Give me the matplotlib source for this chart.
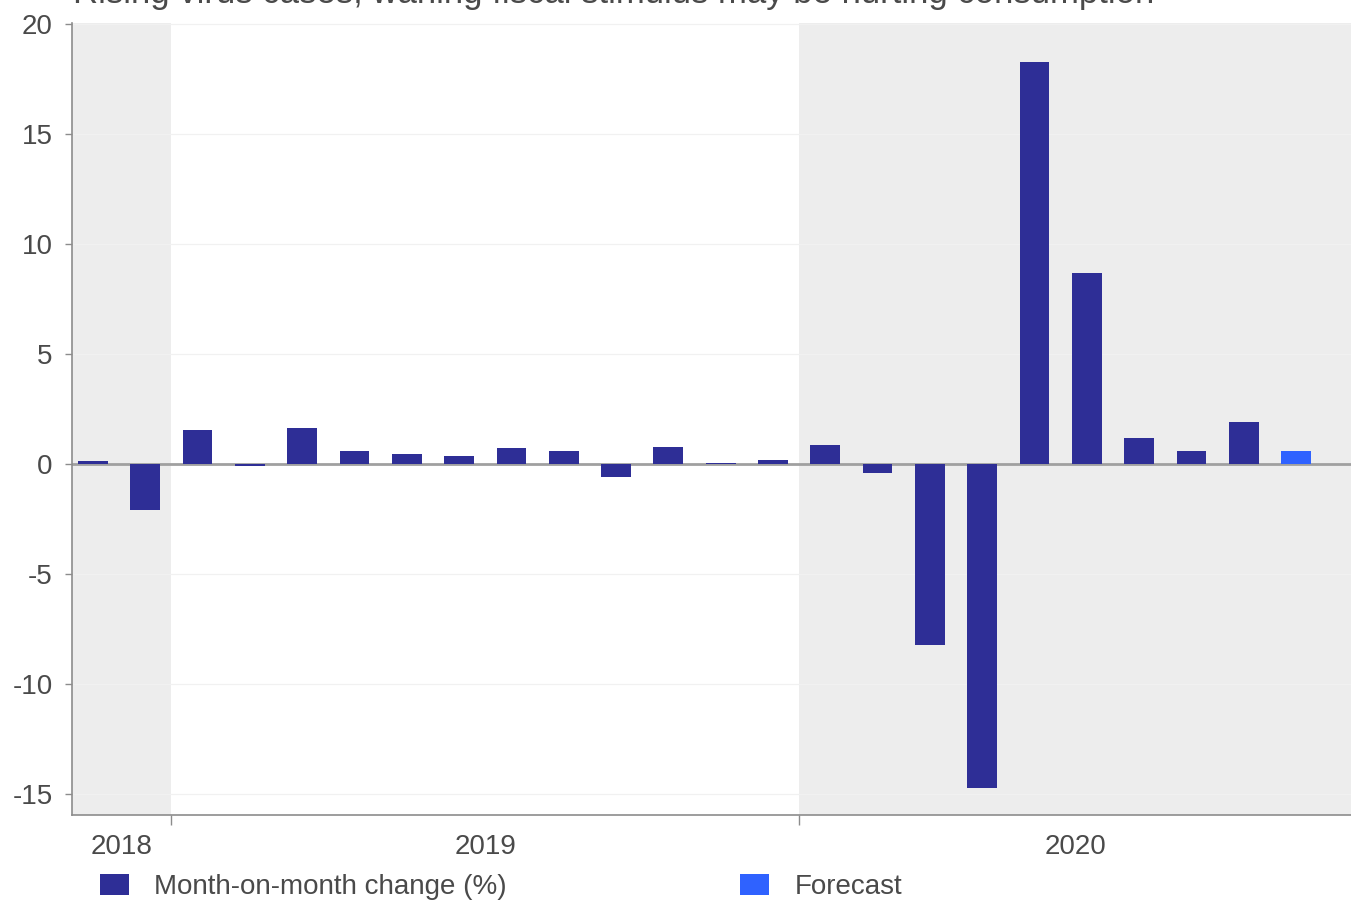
import matplotlib
matplotlib.use("Agg")
import matplotlib.pyplot as plt
from matplotlib.patches import Patch

plt.rcParams['font.family'] = ['Liberation Sans', 'DejaVu Sans']

# Monthly retail sales change, Nov 2018 - Oct 2020 (last month is a forecast)
months = ["2018-11", "2018-12",
          "2019-01", "2019-02", "2019-03", "2019-04", "2019-05", "2019-06",
          "2019-07", "2019-08", "2019-09", "2019-10", "2019-11", "2019-12",
          "2020-01", "2020-02", "2020-03", "2020-04", "2020-05", "2020-06",
          "2020-07", "2020-08", "2020-09", "2020-10"]
mom_change = [0.15, -2.1,
              1.55, -0.1, 1.65, 0.6, 0.45, 0.35, 0.75, 0.6, -0.6, 0.8, 0.05, 0.2,
              0.85, -0.4, -8.2, -14.7, 18.3, 8.7, 1.2, 0.6, 1.9, 0.6]
is_forecast = [False] * 23 + [True]
year_labels = ["2018", "2019", "2020"]
y_ticks = [-15, -10, -5, 0, 5, 10, 15, 20]

title = "Rising virus cases, waning fiscal stimulus may be hurting consumption"
series_label = "Month-on-month change (%)"
forecast_label = "Forecast"

BAR = "#2E2E96"
FCST = "#2F62FF"
SHADE = "#EDEDED"
TEXT = "#4A4A4A"
SPINE = "#8C8C8C"

W, H = 1351, 900
fig = plt.figure(figsize=(W / 100, H / 100), dpi=100)
fig.patch.set_facecolor("white")
ax = fig.add_axes([72 / W, 1 - 815 / H, 1 - 72 / W, (815 - 23) / H])

x = list(range(len(months)))
x_lo, x_hi = -0.4, 24.05
# year boundaries sit halfway between December and January
boundaries = [i + 0.5 for i in range(len(months) - 1)
              if months[i][:4] != months[i + 1][:4]]
edges = [x_lo] + boundaries + [x_hi]

# alternating year panels: grey, white, grey
for k in range(len(edges) - 1):
    if k % 2 == 0:
        ax.axvspan(edges[k], edges[k + 1], color=SHADE, lw=0, zorder=0)

for t in y_ticks:
    ax.axhline(t, color="#F1F1F1", lw=0.9, zorder=0.5)
ax.axhline(0, color="#A0A0A0", lw=2.0, zorder=1)

colors = [FCST if f else BAR for f in is_forecast]
ax.bar(x, mom_change, width=0.57, color=colors, zorder=2, linewidth=0)

ax.set_xlim(x_lo, x_hi)
ax.set_ylim(-15.95, 20.05)

ax.set_yticks(y_ticks)
ax.set_yticklabels([str(t) for t in y_ticks])
ax.tick_params(axis="y", length=5, width=1, color=SPINE, pad=9,
               labelsize=20, labelcolor=TEXT)

ax.set_xticks(boundaries)
ax.set_xticklabels([])
ax.tick_params(axis="x", which="major", length=7, width=1, color=SPINE)
mids = [(edges[k] + edges[k + 1]) / 2 for k in range(len(edges) - 1)]
ax.set_xticks(mids, minor=True)
ax.set_xticklabels(year_labels, minor=True)
ax.tick_params(axis="x", which="minor", length=0, pad=14,
               labelsize=20, labelcolor=TEXT)

for side in ("top", "right"):
    ax.spines[side].set_visible(False)
for side in ("left", "bottom"):
    ax.spines[side].set_color(SPINE)
    ax.spines[side].set_linewidth(1.2)

fig.text(73 / W, 1 - 3 / H, title, ha="left", va="baseline",
         fontsize=25, color=TEXT)

handles = [Patch(facecolor=BAR, edgecolor="none", label=series_label),
           Patch(facecolor=FCST, edgecolor="none", label=forecast_label)]
fig.legend(handles=handles, loc="center left",
           bbox_to_anchor=(100 / W, 1 - 887 / H), bbox_transform=fig.transFigure,
           ncol=2, frameon=False, fontsize=20, labelcolor=TEXT,
           handlelength=1.05, handleheight=0.8, handletextpad=0.9,
           columnspacing=8.4, borderpad=0, borderaxespad=0)

fig.savefig("out.png", dpi=100)
